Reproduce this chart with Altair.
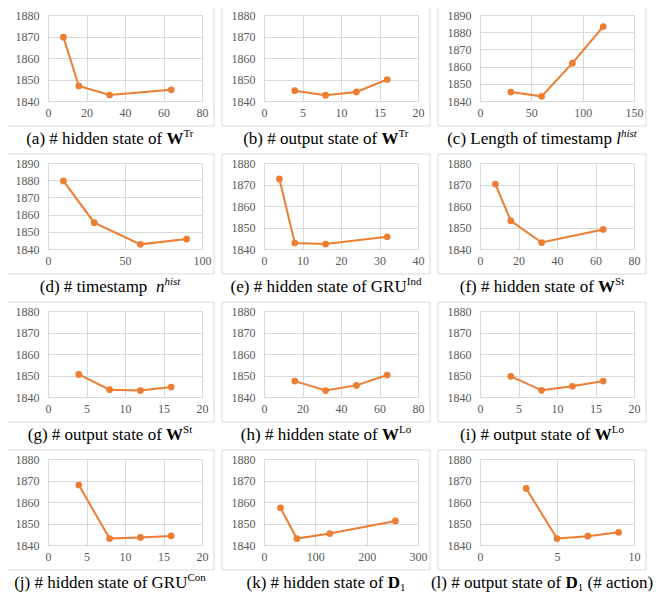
import altair as alt
import pandas as pd

ORANGE = "#ED7D31"
GRID = "#D9D9D9"
SERIF = "Liberation Serif"

# ---- data ----
x_a = [8, 16, 32, 64]
y_a = [1869.7, 1847.0, 1842.8, 1845.2]
x_b = [4, 8, 12, 16]
y_b = [1844.8, 1842.7, 1844.2, 1850.0]
x_c = [30, 60, 90, 120]
y_c = [1845.2, 1842.7, 1862.0, 1883.3]
x_d = [10, 30, 60, 90]
y_d = [1879.6, 1855.3, 1842.7, 1845.8]
x_e = [4, 8, 16, 32]
y_e = [1872.6, 1842.8, 1842.3, 1845.7]
x_f = [8, 16, 32, 64]
y_f = [1870.2, 1853.1, 1843.0, 1849.1]
x_g = [4, 8, 12, 16]
y_g = [1850.5, 1843.4, 1843.0, 1844.6]
x_h = [16, 32, 48, 64]
y_h = [1847.4, 1843.0, 1845.4, 1850.2]
x_i = [4, 8, 12, 16]
y_i = [1849.6, 1843.1, 1845.0, 1847.4]
x_j = [4, 8, 12, 16]
y_j = [1867.9, 1843.0, 1843.5, 1844.2]
x_k = [32, 64, 128, 256]
y_k = [1857.3, 1843.0, 1845.3, 1851.2]
x_l = [3, 5, 7, 9]
y_l = [1866.3, 1843.0, 1844.1, 1845.9]

x_max = [80, 20, 150, 100, 40, 80, 20, 80, 20, 20, 300, 10]
x_step = [20, 5, 50, 50, 10, 20, 5, 20, 5, 5, 100, 5]
y_max = [1880, 1880, 1890, 1890, 1880, 1880, 1880, 1880, 1880, 1880, 1880, 1880]

# captions: (text, style) pieces; style n=normal, b=bold, i=italic,
# sup=superscript, sub=subscript, isup=italic superscript, gap=space
cap_a = [("(a) # hidden state of", "n"), (" ", "gap"), ("W", "b"), ("Tr", "sup")]
cap_b = [("(b) # output state of", "n"), (" ", "gap"), ("W", "b"), ("Tr", "sup")]
cap_c = [("(c) Length of timestamp", "n"), (" ", "gap"), ("l", "i"), ("hist", "isup")]
cap_d = [("(d) # timestamp", "n"), ("  ", "gap"), ("n", "i"), ("hist", "isup")]
cap_e = [("(e) # hidden state of GRU", "n"), ("Ind", "sup")]
cap_f = [("(f) # hidden state of", "n"), (" ", "gap"), ("W", "b"), ("St", "sup")]
cap_g = [("(g) # output state of", "n"), (" ", "gap"), ("W", "b"), ("St", "sup")]
cap_h = [("(h) # hidden state of", "n"), (" ", "gap"), ("W", "b"), ("Lo", "sup")]
cap_i = [("(i) # output state of", "n"), (" ", "gap"), ("W", "b"), ("Lo", "sup")]
cap_j = [("(j) # hidden state of GRU", "n"), ("Con", "sup")]
cap_k = [("(k) # hidden state of", "n"), (" ", "gap"), ("D", "b"), ("1", "sub")]
cap_l = [("(l) # output state of", "n"), (" ", "gap"), ("D", "b"), ("1", "sub"),
         (" ", "gap"), ("(# action)", "n")]

# Times / Liberation Serif advance widths (per 1000 em) for text layout
TW = {" ": 250, "#": 500, "(": 333, ")": 333, "1": 500, "a": 444,
      "b": 500, "c": 444, "d": 500, "e": 444, "f": 333, "g": 500, "h": 500,
      "i": 278, "j": 278, "k": 500, "l": 278, "m": 778, "n": 500, "o": 500,
      "p": 500, "r": 333, "s": 389, "t": 278, "u": 500, "C": 667, "D": 722,
      "G": 722, "I": 333, "L": 611, "R": 667, "S": 556, "T": 611, "U": 722,
      "W": 944}
TWB = {"W": 1000, "D": 722}

W, H = 154, 86
FS, FS_SMALL = 17, 11
SMALL = ("sup", "sub", "isup")


def seg_width(text, style):
    size = FS_SMALL if style in SMALL else FS
    table = TWB if style == "b" else TW
    return sum(table.get(ch, TW.get(ch, 500)) for ch in text) * size / 1000.0


def caption_layers(pieces):
    total = sum(seg_width(t, s) for t, s in pieces)
    cx = (W - 30) / 2.0
    x = cx - total / 2.0
    one = pd.DataFrame({"d": [0]})
    out = []
    for text, style in pieces:
        if style == "gap":
            x += seg_width(text, style)
            continue
        size = FS_SMALL if style in SMALL else FS
        y = H + 43
        if style in ("sup", "isup"):
            y -= 7
        elif style == "sub":
            y += 3
        kw = dict(align="left", baseline="alphabetic", font=SERIF, fontSize=size,
                  color="#000000")
        if style == "b":
            kw["fontWeight"] = "bold"
        if style in ("i", "isup"):
            kw["fontStyle"] = "italic"
        out.append(alt.Chart(one).mark_text(**kw).encode(
            x=alt.value(x), y=alt.value(y), text=alt.value(text)))
        x += seg_width(text, style)
    return out


def axis_kw():
    return dict(title=None, format="d", ticks=False, grid=True, gridColor=GRID,
                labelFont=SERIF, labelFontSize=12, labelColor="#595959",
                labelFlush=False, labelOverlap=False)


def panel(xs, ys, xmax, xstep, ymax, caption):
    df = pd.DataFrame({"x": xs, "y": ys})
    xenc = alt.X(
        "x:Q",
        scale=alt.Scale(domain=[0, xmax], nice=False, zero=True),
        axis=alt.Axis(values=list(range(0, xmax + 1, xstep)), domain=True,
                      domainColor=GRID, labelPadding=6, **axis_kw()),
    )
    yenc = alt.Y(
        "y:Q",
        scale=alt.Scale(domain=[1840, ymax], nice=False, zero=False),
        axis=alt.Axis(values=list(range(1840, ymax + 1, 10)), domain=False,
                      labelPadding=9, **axis_kw()),
    )
    base = alt.Chart(df)
    line = base.mark_line(color=ORANGE, strokeWidth=2).encode(x=xenc, y=yenc)
    pts = base.mark_circle(color=ORANGE, size=45, opacity=1).encode(x=xenc, y=yenc)
    box = alt.Chart(pd.DataFrame({"d": [0]})).mark_rect(
        fill="white", fillOpacity=0, stroke=GRID, strokeWidth=1
    ).encode(
        x=alt.value(-42), x2=alt.value(W + 12), y=alt.value(-9), y2=alt.value(H + 25)
    )
    return alt.layer(box, line, pts, *caption_layers(caption)).properties(
        width=W, height=H)


specs = [
    (x_a, y_a, cap_a), (x_b, y_b, cap_b), (x_c, y_c, cap_c),
    (x_d, y_d, cap_d), (x_e, y_e, cap_e), (x_f, y_f, cap_f),
    (x_g, y_g, cap_g), (x_h, y_h, cap_h), (x_i, y_i, cap_i),
    (x_j, y_j, cap_j), (x_k, y_k, cap_k), (x_l, y_l, cap_l),
]
panels = [panel(s[0], s[1], x_max[i], x_step[i], y_max[i], s[2]) for i, s in enumerate(specs)]

rows = [alt.hconcat(*panels[r * 3:(r + 1) * 3], spacing=62, bounds="flush")
        for r in range(4)]
chart = alt.vconcat(*rows, spacing=5).properties(
    padding={"left": -3, "top": -3, "right": 0, "bottom": 0}, background="white"
).configure_view(stroke=GRID).configure_axis(
    labelFont=SERIF, labelColor="#595959"
)

chart.save("out.html", embed_options={"renderer": "svg", "actions": False})
